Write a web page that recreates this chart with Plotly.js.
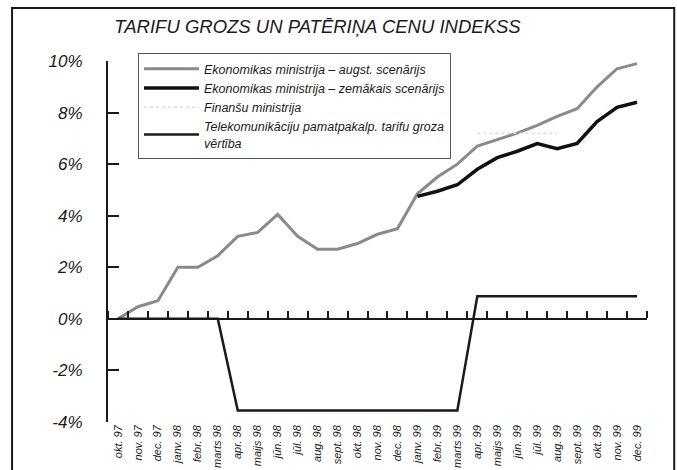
<!DOCTYPE html>
<html>
<head>
<meta charset="utf-8">
<script src="https://cdn.plot.ly/plotly-3.0.1.min.js"></script>
<style>
html,body{margin:0;padding:0;background:#fff;}
#chart{width:677px;height:470px;}
</style>
</head>
<body>
<div id="chart"></div>
<script>
var months = ["okt. 97","nov. 97","dec. 97","janv. 98","febr. 98","marts 98","apr. 98","maijs 98","jūn. 98","jūl. 98","aug. 98","sept. 98","okt. 98","nov. 98","dec. 98","janv. 99","febr. 99","marts 99","apr. 99","maijs 99","jūn. 99","jūl. 99","aug. 99","sept. 99","okt. 99","nov. 99","dec. 99"];

var ekonomHigh = [0.0,0.47,0.7,2.0,2.0,2.45,3.2,3.35,4.05,3.2,2.7,2.7,2.92,3.28,3.5,4.85,5.5,6.0,6.7,6.95,7.2,7.5,7.85,8.15,9.0,9.7,9.9];
var ekonomLow = [null,null,null,null,null,null,null,null,null,null,null,null,null,null,null,4.75,4.95,5.2,5.8,6.25,6.5,6.8,6.6,6.8,7.65,8.2,8.4];
var finansu = [null,null,null,null,null,null,null,null,null,null,null,null,null,null,null,null,null,null,7.2,7.2,7.2,7.2,7.2,null,null,null,null];
var telekom = [0,0,0,0,0,0,-3.55,-3.55,-3.55,-3.55,-3.55,-3.55,-3.55,-3.55,-3.55,-3.55,-3.55,-3.55,0.88,0.88,0.88,0.88,0.88,0.88,0.88,0.88,0.88];

var seriesNames = ["Ekonomikas ministrija – augst. scenārijs","Ekonomikas ministrija – zemākais scenārijs","Finanšu ministrija","Telekomunikāciju pamatpakalp. tarifu groza<br>vērtība"];

var yTickVals = [-4,-2,0,2,4,6,8,10];
var yTickText = ["-4%","-2%","0%","2%","4%","6%","8%","10%"];

var titleText = "TARIFU GROZS UN PATĒRIŅA CENU INDEKSS";

var traces = [
  {x: months, y: ekonomHigh, name: seriesNames[0], type: "scatter", mode: "lines",
   line: {color: "#8a8a8a", width: 3}},
  {x: months, y: ekonomLow, name: seriesNames[1], type: "scatter", mode: "lines",
   line: {color: "#111111", width: 3.5}},
  {x: months, y: finansu, name: seriesNames[2], type: "scatter", mode: "lines",
   line: {color: "#dddddd", width: 1.5, dash: "dot"}},
  {x: months, y: telekom, name: seriesNames[3], type: "scatter", mode: "lines",
   xaxis: "x2", line: {color: "#1a1a1a", width: 2.5}}
];

var layout = {
  width: 677, height: 470,
  margin: {l: 108, r: 30, t: 61, b: 48, pad: 0},
  paper_bgcolor: "#ffffff", plot_bgcolor: "#ffffff",
  font: {family: "Liberation Sans, Arial, sans-serif", color: "#1a1a1a", style: "italic"},
  showlegend: true,
  title: {text: titleText, xref: "container", x: 0.469, xanchor: "center",
          yref: "container", y: 0.944, yanchor: "middle",
          font: {size: 18.5, color: "#1a1a1a", style: "italic"}},
  xaxis: {type: "category", categoryorder: "array", categoryarray: months,
          range: [-0.5, 26.5], showline: false, ticks: "", showgrid: false, zeroline: false,
          tickangle: -90, tickfont: {size: 11, style: "italic"}, fixedrange: true},
  xaxis2: {type: "category", categoryorder: "array", categoryarray: months,
           range: [-0.5, 26.5], overlaying: "x", anchor: "free", position: 4/14, side: "top",
           showline: true, linecolor: "#1a1a1a", linewidth: 2,
           ticks: "outside", tickson: "boundaries", ticklen: 7, tickwidth: 2, tickcolor: "#1a1a1a",
           showticklabels: false, showgrid: false, zeroline: false, fixedrange: true},
  yaxis: {range: [-4, 10], tickvals: yTickVals, ticktext: yTickText,
          showline: true, linecolor: "#1a1a1a", linewidth: 2,
          ticks: "inside", ticklen: 11, tickwidth: 2, tickcolor: "#1a1a1a",
          ticklabelstandoff: 20,
          showgrid: false, zeroline: false, tickfont: {size: 17, style: "italic"}, fixedrange: true},
  legend: {x: 0.0557, xanchor: "left", y: 1.022, yanchor: "top",
           bgcolor: "rgba(255,255,255,0)", bordercolor: "#555555", borderwidth: 1,
           font: {size: 12.5, style: "italic", color: "#1a1a1a"}, itemwidth: 55,
           tracegroupgap: 4},
  shapes: [
    {type: "rect", xref: "paper", yref: "paper", x0: -0.178, x1: 1.0505, y0: -0.2, y1: 1.147,
     line: {color: "#1a1a1a", width: 2}, fillcolor: "rgba(0,0,0,0)", layer: "above"}
  ]
};

Plotly.newPlot("chart", traces, layout, {displayModeBar: false, staticPlot: true});
</script>
</body>
</html>
